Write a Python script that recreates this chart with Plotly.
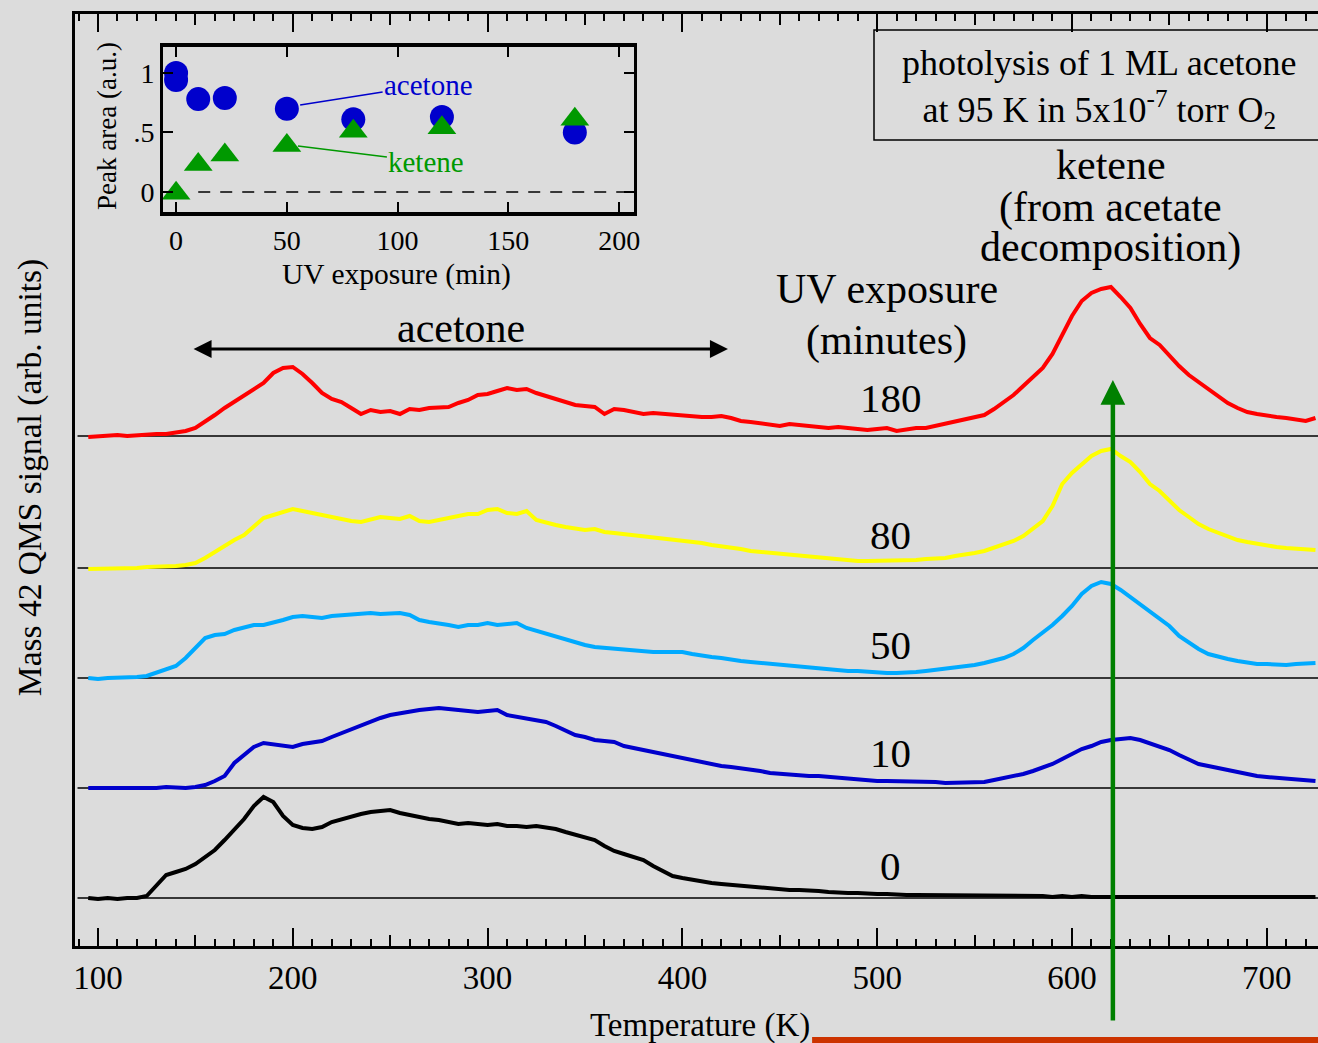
import plotly.graph_objects as go

# ---------------- data ----------------
temperature_K = [95, 100, 105, 110, 115, 120, 125, 130, 135, 140,
                 145, 150, 155, 160, 165, 170, 175, 180, 185, 190,
                 195, 200, 205, 210, 215, 220, 225, 230, 235, 240,
                 245, 250, 255, 260, 265, 270, 275, 280, 285, 290,
                 295, 300, 305, 310, 315, 320, 325, 330, 335, 340,
                 345, 350, 355, 360, 365, 370, 375, 380, 385, 390,
                 395, 400, 405, 410, 415, 420, 425, 430, 435, 440,
                 445, 450, 455, 460, 465, 470, 475, 480, 485, 490,
                 495, 500, 505, 510, 515, 520, 525, 530, 535, 540,
                 545, 550, 555, 560, 565, 570, 575, 580, 585, 590,
                 595, 600, 605, 610, 615, 620, 625, 630, 635, 640,
                 645, 650, 655, 660, 665, 670, 675, 680, 685, 690,
                 695, 700, 705, 710, 715, 720, 725]

signal_0min = [0, -1, 0, -1, 0, 0, 2, 12, 23, 26,
               29, 34, 41, 48, 58, 68, 79, 92, 101, 96,
               82, 73, 70, 69, 71, 76, 79, 81, 84, 86,
               87, 88, 85, 83, 80, 79, 78, 76, 74, 75,
               74, 73, 74, 72, 72, 71, 72, 71, 69, 66,
               63, 60, 58, 52, 47, 44, 41, 38, 32, 27,
               22, 20, 18, 16, 15, 14, 13, 12, 11, 10,
               9, 8, 8, 8, 8, 7, 6, 5, 5, 5,
               4, 4, 4, 3, 3, 3, 3, 3, 2, 3,
               2, 3, 2, 2, 2, 2, 2, 2, 2, 1,
               2, 1, 2, 1, 1, 2, 1, 1, 1, 1,
               1, 1, 1, 1, 1, 1, 1, 1, 1, 1,
               1, 1, 1, 1, 1, 1, 1]

signal_10min = [0, 0, -1, 0, 0, 0, 0, 0, 1, 0,
                0, 1, 3, 7, 12, 25, 33, 41, 45, 44,
                43, 41, 44, 45, 47, 51, 55, 58, 62, 66,
                70, 73, 75, 77, 78, 79, 80, 79, 78, 78,
                76, 77, 78, 73, 71, 69, 68, 66, 62, 57,
                53, 51, 48, 47, 46, 42, 40, 38, 35, 33,
                31, 30, 27, 25, 23, 22, 21, 20, 18, 17,
                15, 14, 13, 13, 12, 12, 11, 11, 10, 9,
                8, 7, 7, 7, 7, 7, 6, 6, 5, 5,
                5, 5, 6, 8, 10, 11, 14, 17, 20, 24,
                29, 34, 39, 42, 46, 48, 49, 50, 48, 45,
                42, 38, 33, 28, 24, 22, 20, 17, 15, 13,
                12, 11, 10, 9, 8, 8, 7]

signal_50min = [0, -1, 0, 0, 1, 1, 2, 5, 8, 12,
                20, 30, 40, 43, 44, 48, 51, 53, 53, 55,
                58, 61, 62, 61, 60, 62, 63, 63, 64, 65,
                64, 65, 65, 63, 58, 56, 55, 53, 51, 53,
                53, 55, 53, 54, 55, 50, 47, 44, 41, 38,
                35, 33, 31, 30, 29, 28, 27, 26, 26, 26,
                26, 26, 24, 22, 21, 20, 18, 17, 16, 15,
                14, 13, 12, 11, 10, 9, 9, 8, 7, 7,
                6, 6, 5, 5, 5, 6, 7, 8, 9, 10,
                11, 13, 15, 17, 20, 24, 30, 38, 45, 53,
                62, 72, 84, 92, 96, 94, 88, 81, 73, 66,
                59, 52, 42, 35, 29, 24, 21, 19, 17, 15,
                14, 14, 13, 13, 14, 14, 15]

signal_80min = [-1, -1, 0, 0, 0, 0, 1, 1, 2, 2,
                3, 5, 10, 16, 23, 28, 33, 42, 50, 53,
                56, 59, 57, 55, 53, 51, 48, 47, 46, 49,
                51, 50, 49, 52, 47, 46, 48, 50, 53, 54,
                54, 58, 59, 55, 54, 57, 48, 45, 43, 41,
                39, 38, 39, 36, 35, 34, 32, 31, 30, 29,
                29, 28, 27, 25, 23, 22, 21, 19, 17, 16,
                15, 14, 13, 12, 11, 10, 9, 8, 7, 7,
                7, 7, 7, 8, 8, 8, 9, 9, 10, 12,
                13, 15, 17, 20, 23, 27, 32, 39, 47, 62,
                84, 95, 104, 112, 117, 119, 112, 106, 96, 84,
                77, 67, 58, 51, 44, 39, 35, 31, 28, 26,
                24, 22, 21, 20, 19, 18, 18]

signal_180min = [-1, 0, 0, 1, 0, 1, 1, 2, 2, 3,
                 5, 8, 14, 21, 28, 34, 40, 47, 53, 63,
                 68, 69, 62, 53, 43, 37, 34, 28, 22, 26,
                 24, 25, 22, 27, 26, 28, 28, 29, 33, 36,
                 41, 42, 45, 48, 46, 47, 43, 40, 38, 34,
                 31, 30, 29, 22, 27, 26, 24, 22, 23, 22,
                 21, 21, 20, 19, 19, 20, 18, 15, 14, 13,
                 12, 10, 12, 11, 10, 9, 8, 9, 8, 7,
                 6, 7, 8, 5, 7, 8, 8, 10, 12, 14,
                 16, 18, 21, 27, 34, 41, 50, 59, 68, 82,
                 102, 120, 135, 143, 147, 149, 139, 128, 112, 98,
                 91, 80, 70, 61, 54, 47, 40, 33, 28, 24,
                 22, 20, 19, 18, 16, 15, 18]

exposure_labels = ["0", "10", "50", "80", "180"]
trace_offsets = [48, 158, 268, 378, 510]
trace_colors = ["#000000", "#0000cc", "#00aaff", "#ffff00", "#ff0000"]
label_y = [80, 193, 301, 411, 548]

# inset: peak areas vs UV exposure
uv_acetone = [0, 0, 10, 22, 50, 80, 120, 180]
area_acetone = [1.0, 0.94, 0.78, 0.79, 0.70, 0.61, 0.63, 0.50]
uv_ketene = [0, 10, 22, 50, 80, 120, 180]
area_ketene = [-0.01, 0.23, 0.31, 0.39, 0.51, 0.54, 0.61]

x_ticks = [100, 200, 300, 400, 500, 600, 700]
x_mid_ticks = [150, 250, 350, 450, 550, 650]
inset_x_ticks = [0, 50, 100, 150, 200]
inset_y_ticks = [0, 0.5, 1]
inset_y_text = ["0", ".5", "1"]

FONT = "Liberation Serif"
BG = "#dcdcdc"
X_RANGE = [88.2, 726.3]

fig = go.Figure()

signals = [signal_0min, signal_10min, signal_50min, signal_80min, signal_180min]
for sig, off, col in zip(signals, trace_offsets, trace_colors):
    fig.add_trace(go.Scatter(x=[89.5, X_RANGE[1]], y=[off, off], mode="lines",
                             line=dict(color="black", width=1.5),
                             showlegend=False, hoverinfo="skip"))
    fig.add_trace(go.Scatter(x=temperature_K, y=[v + off for v in sig], mode="lines",
                             line=dict(color=col, width=4),
                             showlegend=False))

fig.add_trace(go.Scatter(x=[None], y=[None], xaxis="x3", yaxis="y", showlegend=False))

# inset
fig.add_trace(go.Scatter(x=[10, 205], y=[0, 0], mode="lines", xaxis="x2", yaxis="y2",
                         line=dict(color="black", width=1.5, dash="12px,10px"),
                         showlegend=False))
fig.add_trace(go.Scatter(x=uv_acetone, y=area_acetone, mode="markers", xaxis="x2", yaxis="y2",
                         marker=dict(symbol="circle", size=24, color="#0000cc"),
                         showlegend=False))
fig.add_trace(go.Scatter(x=uv_ketene, y=area_ketene, mode="markers", xaxis="x2", yaxis="y2",
                         marker=dict(symbol="triangle-up", size=25, color="#009900"),
                         showlegend=False))


def txt(x, y, text, size, xref="x", yref="y", color="black", angle=0):
    return dict(x=x, y=y, xref=xref, yref=yref, text=text, showarrow=False,
                xanchor="center", yanchor="middle", textangle=angle,
                font=dict(family=FONT, size=size, color=color))


annotations = []
for lab, ly in zip(exposure_labels, label_y):
    annotations.append(txt(507, ly, lab, 41))

annotations += [
    txt(505, 657, "UV exposure", 42),
    txt(505, 606, "(minutes)", 42),
    txt(620, 781, "ketene", 42),
    txt(620, 739, "(from acetate", 42),
    txt(620, 699, "decomposition)", 42),
    txt(286.3, 618, "acetone", 42),
    dict(x=423.4, y=597, xref="x", yref="y", ax=148.3, ay=597, axref="x", ayref="y",
         text="", showarrow=True, arrowside="end+start", arrowhead=2, arrowsize=1.2,
         arrowwidth=3, arrowcolor="black"),
    dict(x=621, y=566, xref="x", yref="y", ax=0, ay=642, axref="pixel", ayref="pixel",
         text="", showarrow=True, arrowhead=2, arrowsize=1.1, arrowwidth=4.5,
         arrowcolor="#008000"),
    txt(0.8246, 0.9206,
        "photolysis of 1 ML acetone<br>at 95 K in 5x10<sup>-7</sup> torr O<sub>2</sub>",
        36, xref="paper", yref="paper"),
    txt(-0.0362, 0.502, "Mass 42 QMS signal (arb. units)", 33.5, xref="paper", yref="paper",
        angle=-90),
    txt(0.5028, -0.0848, "Temperature (K)", 33, xref="paper", yref="paper"),
    txt(0.259, 0.72, "UV exposure (min)", 29.5, xref="paper", yref="paper"),
    txt(0.0257, 0.8798, "Peak area (a.u.)", 27, xref="paper", yref="paper", angle=-90),
    dict(x=56, y=0.73, xref="x2", yref="y2", ax=114, ay=0.9, axref="x2", ayref="y2",
         text="acetone", showarrow=True, arrowhead=0, arrowwidth=1.5, arrowcolor="#0000cc",
         standoff=0, font=dict(family=FONT, size=29, color="#0000cc")),
    dict(x=55, y=0.387, xref="x2", yref="y2", ax=113, ay=0.252, axref="x2", ayref="y2",
         text="ketene", showarrow=True, arrowhead=0, arrowwidth=1.5, arrowcolor="#009900",
         standoff=0, font=dict(family=FONT, size=29, color="#009900")),
]

shapes = [
    dict(type="rect", xref="paper", yref="paper", x0=0.6428, x1=1.02, y0=0.8648, y1=0.9828,
         line=dict(color="black", width=1.5), fillcolor="rgba(0,0,0,0)"),
    dict(type="rect", xref="paper", yref="paper", x0=0.593, x1=1.02, y0=-0.104, y1=-0.0976,
         line=dict(width=0), fillcolor="#cc3300"),
]

fig.update_layout(
    width=1318, height=1043,
    margin=dict(l=75, r=0, t=14, b=97, autoexpand=False),
    paper_bgcolor=BG, plot_bgcolor=BG,
    showlegend=False,
    font=dict(family=FONT, color="black"),
    xaxis=dict(domain=[0, 1], range=X_RANGE, showline=True, linecolor="black", linewidth=3,
               mirror="allticks", ticks="inside", tickvals=x_ticks, ticklen=18, tickwidth=2,
               tickcolor="black", tickfont=dict(family=FONT, size=33, color="black"),
               minor=dict(dtick=10, tick0=100, ticks="inside", ticklen=7, tickwidth=1.5,
                          tickcolor="black", showgrid=False),
               showgrid=False, zeroline=False, automargin=False),
    xaxis3=dict(overlaying="x", anchor="y", range=X_RANGE, showline=False, mirror="ticks",
                ticks="inside", tickvals=x_mid_ticks, ticklen=11, tickwidth=1.5,
                tickcolor="black", showticklabels=False, showgrid=False, zeroline=False,
                automargin=False),
    yaxis=dict(domain=[0, 1], range=[0, 932], showline=True, linecolor="black", linewidth=3,
               mirror=False, showticklabels=False, ticks="", showgrid=False, zeroline=False,
               automargin=False),
    xaxis2=dict(domain=[0.0708, 0.4497], anchor="y2", range=[-5.9, 206.7], showline=True,
                linecolor="black", linewidth=4, mirror="ticks", ticks="inside",
                tickvals=inset_x_ticks, ticklen=10, tickwidth=2, tickcolor="black",
                tickfont=dict(family=FONT, size=28, color="black"),
                showgrid=False, zeroline=False, automargin=False),
    yaxis2=dict(domain=[0.7876, 0.9646], anchor="x2", range=[-0.168, 1.218], showline=True,
                linecolor="black", linewidth=3, mirror="ticks", ticks="inside",
                tickvals=inset_y_ticks, ticktext=inset_y_text, ticklen=10, tickwidth=2,
                tickcolor="black", tickfont=dict(family=FONT, size=28, color="black"),
                showgrid=False, zeroline=False, automargin=False),
    annotations=annotations,
    shapes=shapes,
)

fig.write_html("out.html")
